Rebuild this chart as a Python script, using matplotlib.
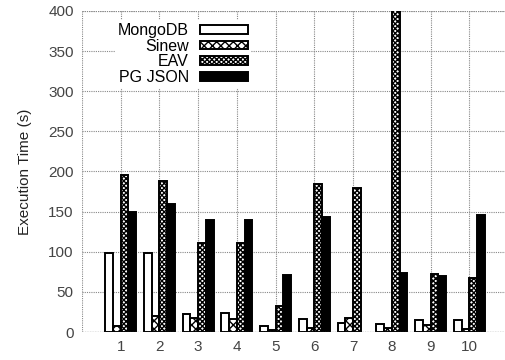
import numpy as np
import matplotlib
matplotlib.use("Agg")
import matplotlib.pyplot as plt

plt.rcParams['font.family'] = ['Liberation Sans', 'DejaVu Sans']
plt.rcParams['hatch.linewidth'] = 1.0

queries = [1, 2, 3, 4, 5, 6, 7, 8, 9, 10]
mongodb = [99, 98, 23, 24, 7, 16, 11, 10, 15, 15]
sinew = [8, 20, 17, 16, 3, 5, 18, 5, 9, 4]
eav = [196, 188, 111, 111, 32, 185, 180, 420, 72, 67]
pg_json = [149, 160, 140, 140, 71, 143, np.nan, 73, 70, 146]

series = [
    ("MongoDB", mongodb, "white", None),
    ("Sinew", sinew, "white", "xxxx"),
    ("EAV", eav, "white", "xxxxxxx"),
    ("PG JSON", pg_json, "black", None),
]

fig = plt.figure(figsize=(5.05, 3.6), dpi=100)
ax = fig.add_axes([82 / 505, 28 / 360, 426 / 505, 321 / 360])

x = np.arange(1, len(queries) + 1)
width = 0.2
offsets = [-0.3, -0.1, 0.1, 0.3]
for (name, vals, face, hatch), off in zip(series, offsets):
    ax.bar(x + off, vals, width, facecolor=face, edgecolor="black",
           hatch=hatch, linewidth=1.4, label=name, zorder=3)

ax.set_xlim(0, 11)
ax.set_ylim(0, 400)
ax.set_xticks(x)
ax.set_xticklabels([str(q) for q in queries])
ax.set_yticks(np.arange(0, 401, 50))
ax.tick_params(length=0, labelsize=11, colors="#444444", pad=6)
ax.set_ylabel("Execution Time (s)", fontsize=11, color="#222222", labelpad=12)

dots = (0, (1, 1))
ax.grid(True, color="#888888", linestyle=dots, linewidth=0.8, zorder=0)
for side in ["left", "top", "bottom", "right"]:
    ax.spines[side].set_visible(False)
ax.axhline(400, color="#888888", linestyle=dots, linewidth=0.8, zorder=0)
ax.axvline(0, color="#888888", linestyle=dots, linewidth=0.8, zorder=0)
ax.axhline(0, color="#555555", linestyle=dots, linewidth=0.9, zorder=4)

leg = ax.legend(loc="upper right", bbox_to_anchor=(0.397, 0.972), frameon=True,
                markerfirst=False, alignment="right", fontsize=11.5,
                handlelength=3.0, handleheight=0.45, labelspacing=0.04,
                handletextpad=0.7, borderpad=0.2, borderaxespad=0)
leg.get_frame().set_facecolor("white")
leg.get_frame().set_edgecolor("none")
leg.get_frame().set_alpha(1)
leg.set_zorder(5)

fig.savefig("out.png", dpi=100)
